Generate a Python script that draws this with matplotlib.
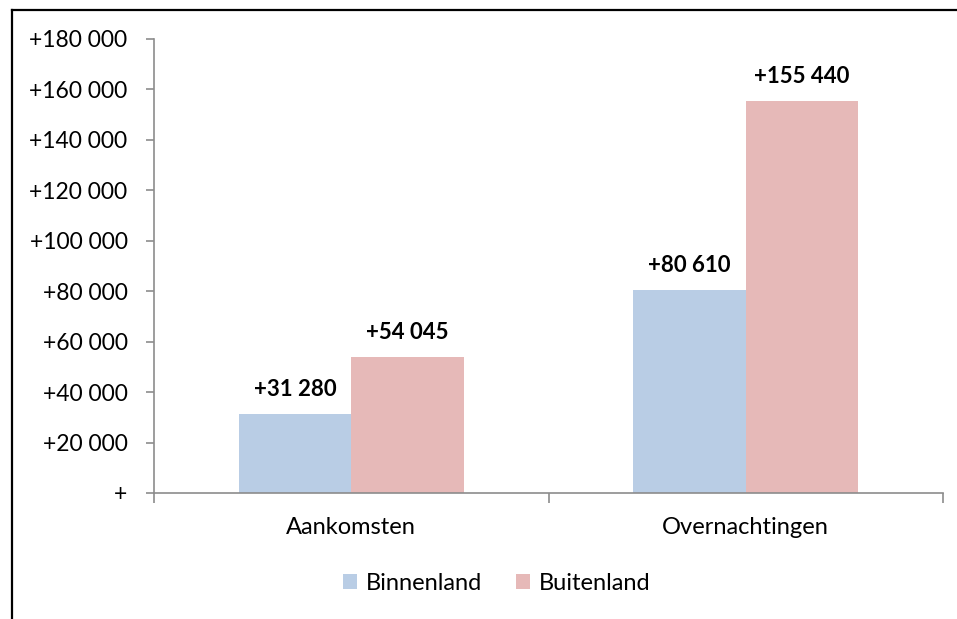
import numpy as np
import matplotlib.pyplot as plt
from matplotlib.ticker import FuncFormatter, FixedLocator
from matplotlib.lines import Line2D

plt.rcParams['font.family'] = ['Lato', 'DejaVu Sans']

categories = ["Aankomsten", "Overnachtingen"]
binnenland = [31280, 80610]
buitenland = [54045, 155440]
series_names = ["Binnenland", "Buitenland"]
colors = ["#B9CDE5", "#E6B9B8"]

fig = plt.figure(figsize=(9.57, 6.19), dpi=100)
ax = fig.add_axes([0.1609, 0.2036, 0.8245, 0.7334])

x = np.arange(len(categories))
w = 0.285
b1 = ax.bar(x - w / 2, binnenland, w, color=colors[0], label=series_names[0])
b2 = ax.bar(x + w / 2, buitenland, w, color=colors[1], label=series_names[1])

def fmt(v):
    return "+" + f"{int(v):,}".replace(",", " ")

#data labels above bars
for bars, vals in [(b1, binnenland), (b2, buitenland)]:
    for bar, v in zip(bars, vals):
        ax.annotate(fmt(v), (bar.get_x() + bar.get_width() / 2, v),
                    xytext=(0, 10), textcoords="offset points",
                    ha="center", va="bottom", fontsize=16, fontweight="bold")

ax.set_xlim(-0.5, 1.5)
ax.set_ylim(0, 180000)
ax.set_yticks(np.arange(0, 180001, 20000))
ax.yaxis.set_major_formatter(FuncFormatter(lambda v, p: "+" if v == 0 else fmt(v)))

ax.set_xticks(x)
ax.set_xticklabels(categories)
ax.xaxis.set_minor_locator(FixedLocator([-0.5, 0.5, 1.5]))
ax.tick_params(axis="x", which="major", length=0, pad=17, labelsize=17)
ax.tick_params(axis="x", which="minor", length=7, color="#8C8C8C", width=1.2)
ax.tick_params(axis="y", length=6, color="#8C8C8C", width=1.2, labelsize=16.5, pad=13)

for s in ["top", "right"]:
    ax.spines[s].set_visible(False)
for s in ["left", "bottom"]:
    ax.spines[s].set_color("#8C8C8C")
    ax.spines[s].set_linewidth(1.2)

fig.legend(handles=[b1, b2], labels=series_names, loc="center",
           bbox_to_anchor=(0.519, 0.057), ncol=2, frameon=False,
           fontsize=17, handlelength=0.6, handleheight=0.6,
           columnspacing=1.4, handletextpad=0.4)

#outer border, only left and top visible
fig.add_artist(Line2D([0.0125, 0.0125], [0, 0.984], color="black", lw=1.6))
fig.add_artist(Line2D([0.0125, 1.0], [0.984, 0.984], color="black", lw=1.6))

fig.savefig("out.png", dpi=100)
